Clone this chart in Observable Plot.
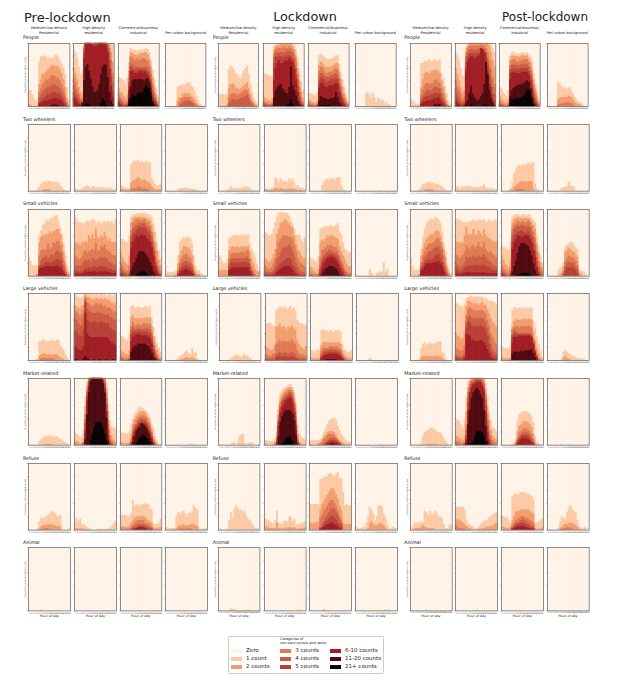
<!DOCTYPE html>
<html><head><meta charset="utf-8">
<style>
html,body{margin:0;padding:0;background:#fff}
#page{position:relative;width:631px;height:680px;overflow:hidden;font-family:"DejaVu Sans",sans-serif;color:#222}
#page svg{position:absolute;overflow:visible;background:none}
.t{position:absolute;white-space:nowrap;line-height:1}
</style>
<script src="https://cdn.jsdelivr.net/npm/d3@7"></script>
<script src="https://cdn.jsdelivr.net/npm/@observablehq/plot@0.6"></script>
</head><body><div id="page"></div>
<script>
const periods=["Pre-lockdown","Lockdown","Post-lockdown"];
const rowNames=["People","Two wheelers","Small vehicles","Large vehicles","Market-related","Refuse","Animal"];
const columnTitles=[["Medium/low-density","Residential"],["High-density","residential"],["Commercial/business/","industrial"],["Peri-urban background"]];
const categories=["Zero","1 count","2 counts","3 counts","4 counts","5 counts","6-10 counts","11-20 counts","21+ counts"];
const colors=["#fff2e6","#fbc8a2","#f29c6d","#dd7a55","#ca5c44","#b9403a","#a01e25","#4a0c10","#050505"];
const hours=d3.range(24);
// each curve: first value = hour it starts at, then the read top of that count band (%), cumulative from the axis
const h=(s,...v)=>hours.map(i=>v[i-s]??0);

const prePeople=[
[h(0,25,25,18,12,8,8,70,78,78,80,78,76,78,76,76,80,82,78,72,68,62,50,30,10),h(0,3,2,0,0,0,0,35,42,50,52,54,58,60,64,64,63,64,62,58,52,42,30,12,2),h(6,22,28,34,38,42,40,44,48,48,48,46,44,40,34,28,16,6),h(6,14,18,22,26,28,30,30,32,34,34,32,30,28,22,18,8,2),h(6,6,8,12,14,16,18,18,20,22,22,20,20,18,14,10,4),h(6,3,4,6,8,8,8,10,10,12,12,12,10,10,8,4),h(13,1,2,2,2,1)],
[h(0,90,85,75,62,50,55,98,100,100,100,100,100,100,100,100,100,100,100,100,100,100,100,100,98),h(0,60,52,42,30,22,18,95,100,100,100,100,100,100,100,100,100,100,100,100,100,100,98,85,70),h(0,45,38,28,20,12,12,92,100,100,100,100,100,100,100,100,100,100,100,100,100,100,92,72,52),h(0,32,25,18,12,8,8,88,100,100,100,100,100,100,100,100,100,100,100,100,100,98,85,58,38),h(0,22,16,10,7,4,5,82,100,100,100,100,98,98,100,100,100,100,100,100,100,92,72,45,25),h(0,14,10,5,3,2,3,75,98,100,100,98,96,94,94,96,100,100,100,100,96,85,60,32,15),h(5,5,40,62,66,55,42,30,22,22,25,35,50,62,66,64,45,22,8,2),h(7,2,4,2,0,0,0,0,0,0,4,12,8,2)],
[h(0,45,44,42,40,35,45,70,92,90,88,88,88,88,90,88,90,92,90,85,72,58,42,28,15),h(0,28,22,20,15,12,18,55,85,84,82,80,80,82,84,84,85,85,82,75,62,45,30,18,8),h(0,18,14,10,6,5,8,45,78,75,72,72,75,72,74,75,76,74,72,65,52,35,22,12,4),h(0,12,8,5,2,2,4,38,68,65,62,62,62,60,62,60,62,62,60,55,42,25,15,8,2),h(0,8,4,2,0,0,2,32,62,58,58,55,58,58,58,58,58,56,54,48,35,18,10,5),h(0,5,2,0,0,0,1,25,55,55,52,52,52,55,55,52,55,52,50,42,30,14,7,2),h(6,10,30,40,42,42,42,43,42,42,40,42,44,38,22,8,2),h(6,4,12,18,15,15,20,22,20,22,28,33,30,28,15,4)],
[h(7,30,32,32,34,32,36,36,38,32,30,25,16,10,4,2),h(7,8,14,14,18,20,20,20,20,16,14,10,5,2),h(8,6,10,12,14,14,14,14,10,8,4,2),h(9,3,5,7,8,8,8,6,4,1)]];
const lockPeople=[
[h(0,18,18,18,18,18,20,58,64,62,58,52,50,46,44,50,56,60,64,50,35,22,14,8,4),h(5,2,28,34,36,34,30,28,26,28,30,32,34,38,28,18,10,6,2),h(6,14,18,20,20,20,16,18,20,22,24,26,24,18,10,5,2),h(6,4,8,10,10,10,8,10,12,14,14,16,18,12,6,2)],
[h(0,52,52,50,48,46,48,95,98,98,98,100,100,100,100,100,100,100,100,98,90,75,55,38,25),h(0,15,12,10,8,8,12,88,95,96,96,98,98,98,98,98,98,98,95,90,78,60,40,22,12),h(0,8,6,4,3,3,6,82,90,92,92,92,92,94,92,92,94,92,90,82,70,50,30,14,6),h(0,4,3,2,1,1,3,75,85,85,85,85,85,85,85,88,88,85,85,75,60,42,22,8,3),h(0,2,1,0,0,0,1,68,78,78,78,78,78,78,80,80,80,78,75,65,50,32,14,4,1),h(6,40,60,68,72,68,68,70,72,72,76,72,70,58,42,22,8,2),h(6,14,25,30,32,35,28,24,20,20,30,62,32,25,16,8,2),h(14,2,4,10,2)],
[h(0,20,20,18,18,16,22,80,82,80,78,76,74,74,74,76,78,80,80,66,52,42,30,18,8),h(0,10,8,6,5,4,8,65,70,68,64,62,62,62,62,64,66,68,68,54,42,30,20,12,4),h(0,6,4,2,2,1,4,55,62,60,56,52,52,54,54,55,58,60,58,44,32,20,12,6,2),h(0,3,2,1,0,0,2,42,52,52,48,46,46,46,48,48,50,52,50,36,24,14,8,3),h(0,1,0,0,0,0,1,34,45,44,42,38,38,40,42,42,44,44,42,30,18,10,4),h(6,28,36,36,32,30,30,32,32,32,34,36,36,22,12,6,2),h(6,8,16,14,12,12,10,10,12,12,14,22,14,6,2),h(7,1,1,1,1,1,1)],
[h(6,20,22,18,12,20,14,6,12,12,8,10,4,6,2,2)]];
const postPeople=[
[h(0,12,8,5,3,2,2,68,68,72,70,72,74,70,72,74,72,72,74,52,44,32,20,8,2),h(5,1,30,42,52,54,52,52,55,56,56,58,55,52,40,30,18,8,2),h(6,18,26,32,36,36,34,36,36,40,42,38,36,28,20,10,3),h(6,10,16,20,24,26,24,25,28,30,30,28,28,20,12,5,1),h(6,6,10,14,16,17,16,18,18,20,20,20,18,12,7,2),h(6,3,5,7,8,9,8,10,10,12,12,14,10,6,3),h(14,2,2,2,2)],
[h(0,85,80,72,60,48,48,92,98,100,100,100,100,100,100,100,100,100,100,100,100,100,98,92,85),h(0,60,50,40,30,22,25,85,95,100,100,100,100,100,100,100,100,100,100,100,100,95,85,72,62),h(0,42,32,25,18,10,15,78,92,95,96,96,96,95,96,96,98,96,96,92,85,72,58,45,35),h(0,28,20,14,8,5,8,70,85,88,90,90,88,88,90,92,92,92,90,85,75,60,42,30,20),h(0,15,10,6,3,2,4,62,78,82,84,84,82,82,84,85,88,88,85,78,65,48,30,18,10),h(0,8,4,2,0,0,2,55,70,76,78,78,75,75,78,80,92,90,85,70,55,35,18,8,3),h(6,4,8,20,32,20,14,10,8,10,15,20,35,70,50,25,12,4),h(9,2,1,0,0,0,0,0,0,2,1)],
[h(0,30,28,22,18,15,25,78,84,86,82,84,82,84,84,85,84,85,82,78,72,52,36,22,10),h(0,15,12,8,6,5,10,72,78,80,78,78,78,78,80,80,78,80,76,70,58,42,28,15,5),h(0,8,5,3,2,1,4,65,72,74,72,70,70,72,72,74,74,74,70,62,50,32,20,8,2),h(0,4,2,1,0,0,2,58,65,66,64,64,64,64,66,66,66,66,62,55,40,24,12,4),h(0,2,1,0,0,0,1,52,58,60,58,58,58,60,60,60,60,60,56,48,34,18,8,2),h(6,42,52,54,52,52,52,52,54,54,54,54,50,40,28,12,4),h(6,15,25,28,30,32,34,33,35,36,38,40,38,28,14,4),h(6,4,10,11,12,12,12,12,14,16,20,26,26,22,10,2)],
[h(6,38,36,32,28,30,26,28,30,24,20,14,10,6,6,4,2),h(6,10,12,14,14,14,14,16,16,14,10,6,4,2,2),h(6,2,3,4,4,4,6,6,4,4,2)]];

const preTwo=[[h(5,2,6,10,12,14,13,15,14,13,14,12,13,12,8,5,2),h(8,1,2,2,2,1)],[h(0,2,3,1,2,3,5,6,8,6,5,7,6,4,6,5,3,5,3,4,3,5,3,2,2)],[h(0,8,7,5,4,3,4,40,42,45,44,46,43,44,43,42,44,43,42,18,14,10,6,8,10),h(0,2,2,1,1,1,1,12,14,16,18,20,18,15,16,16,14,12,10,6,4,2,1,2,2),h(6,2,3,4,4,6,5,3,3,3,2,2)],[h(7,2,3,4,4,5,4,4,3,3,2,2,1)]];
const lockTwo=[[h(5,1,3,6,4,3,3,4,3,4,5,5,6,6,3,1,1)],[h(0,2,3,2,2,4,6,20,16,12,18,15,14,15,13,18,14,18,12,4,8,5,3,3,3),h(0,1,2,1,1,1,2,4,3,2,4,3,2,2,2,3,2,3,2,1,1,1,1)],[h(7,8,14,16,18,16,18,18,16,18,20,20,8,2,1)],[h(14,1)]];
const postTwo=[[h(5,2,6,10,10,12,13,12,11,12,10,10,9,8,6,3,1),h(8,1,2,2,2,2,1)],[h(0,4,7,3,5,6,6,7,7,6,6,4,5,5,5,6,6,9,6,4,3,4,3,2,2)],[h(4,1,4,12,26,32,36,38,37,40,38,40,42,40,42,42,10,3,1),h(5,1,2,6,8,10,12,14,12,14,12,14,14,14,3),h(8,1,2,2,2,2,1)],[h(8,4,5,6,6,13,8,7,6)]];

const preSmall=[
[h(0,28,22,15,15,15,15,60,68,76,78,84,82,85,86,88,90,90,82,72,62,48,30,14,6),h(5,2,50,58,60,60,62,62,66,64,66,68,70,70,62,50,35,18,6,2),h(5,1,30,38,40,38,40,48,40,42,50,48,52,52,46,36,22,10,2),h(5,1,16,22,26,28,30,26,28,32,30,34,36,36,34,26,14,5,1),h(6,14,16,16,18,20,20,18,20,22,22,24,24,22,16,8,3),h(6,10,11,12,13,14,14,12,14,14,14,15,14,13,8,4,1)],
[h(0,90,85,80,80,78,78,80,82,80,82,84,84,80,80,82,78,80,82,80,82,80,82,78,84),h(0,48,50,48,45,50,50,52,50,60,55,62,56,70,58,55,60,58,65,58,52,55,50,50,50),h(0,30,28,25,25,28,35,38,34,36,38,40,38,48,36,38,44,42,46,40,36,36,32,30,30),h(0,16,14,15,14,15,20,24,22,24,20,26,24,22,24,26,28,26,28,26,22,20,18,16,16),h(0,8,8,6,5,6,8,12,10,12,10,12,14,12,12,14,14,12,14,12,10,10,10,8,8),h(0,4,3,2,2,3,4,6,5,6,5,6,6,6,5,6,6,6,6,6,5,5,4,4,4)],
[h(0,55,55,52,50,50,60,88,92,92,93,93,93,94,94,94,92,92,90,88,78,65,50,38,26),h(0,35,28,22,18,16,30,80,85,88,88,88,88,88,88,88,86,85,82,76,65,50,36,24,16),h(0,20,16,10,8,6,14,68,78,80,84,84,84,82,84,84,80,80,74,65,52,38,22,14,8),h(0,12,8,5,3,2,6,60,70,72,76,76,78,78,78,78,74,72,68,58,44,28,15,8,4),h(0,6,4,2,1,0,3,52,62,64,68,70,72,72,72,72,68,65,60,50,36,20,10,4,2),h(0,3,1,0,0,0,1,42,50,55,60,58,60,62,60,60,56,54,50,42,30,14,6,2),h(6,8,14,20,26,32,36,36,36,34,30,26,20,14,6,2),h(9,1,3,5,7,7,6,4,1)],
[h(0,3,6,5,5,5,6,8,30,50,54,58,56,58,58,55,48,30,14,8,8,4,2),h(5,1,2,18,30,38,44,44,42,42,38,30,15,6,2,2),h(7,8,18,26,30,32,32,28,26,18,8,2),h(7,5,12,18,20,22,22,20,18,12,4),h(7,3,8,12,14,15,15,14,12,8,2),h(7,1,4,7,8,9,9,8,6,4)]];
const lockSmall=[
[h(0,30,28,22,18,18,24,56,58,60,60,62,60,60,62,60,62,60,62,48,40,35,28,18,8),h(0,8,8,8,8,8,8,38,42,44,42,44,42,42,44,42,44,44,44,35,25,18,10,6,6),h(6,26,32,34,34,34,34,34,36,35,34,38,38,26,14,8,2),h(6,18,24,26,26,26,26,26,26,26,26,28,26,18,8,3),h(6,14,20,18,20,18,20,18,20,20,20,20,18,12,6),h(6,8,10,12,12,12,10,12,12,12,12,12,12,6,2)],
[h(0,65,64,60,60,62,70,80,88,94,95,95,95,94,94,90,84,78,70,62,60,62,55,50,58),h(0,26,24,22,20,24,32,40,62,70,78,80,82,84,80,78,74,72,60,48,40,36,30,26,26),h(0,16,12,10,10,12,18,26,40,50,55,58,60,60,60,58,58,54,46,36,26,20,18,16,14),h(0,8,6,5,5,5,8,14,24,28,34,40,42,42,44,46,42,36,28,18,12,8,6,5,4),h(0,3,2,2,1,2,4,6,10,14,18,20,22,24,26,26,24,16,12,6,4,2,1,1,1),h(0,1,0,0,0,0,1,2,5,8,10,12,12,14,14,14,12,8,4,2,1)],
[h(0,28,26,24,22,20,30,70,72,72,74,74,74,76,74,74,76,78,66,62,50,40,38,34,36),h(0,14,12,8,6,4,10,50,54,52,56,60,58,60,60,58,56,54,44,36,30,24,18,14,14),h(0,6,4,3,2,1,4,28,38,40,42,46,44,46,44,42,42,38,30,22,16,10,6,4,4),h(0,2,1,0,0,0,1,16,26,30,34,36,38,38,36,34,34,30,24,18,10,5,2,1,1),h(6,10,20,24,28,30,32,32,32,30,28,24,18,12,6,2),h(6,4,12,18,22,26,26,28,28,26,22,18,12,6,2),h(7,2,6,10,12,14,14,14,12,10,6,2)],
[h(8,10,4,0,0,4,5,6,6,20,6,10)]];
const postSmall=[
[h(0,28,14,8,8,8,12,40,58,70,78,82,84,86,84,88,86,84,80,66,48,36,18,8,4),h(5,2,30,42,48,54,58,60,62,62,66,68,66,60,50,40,28,12,4),h(5,1,20,30,36,42,46,48,48,50,52,56,56,50,42,30,16,6,1),h(6,14,20,26,30,34,36,36,40,42,42,44,38,30,20,10,2),h(6,10,14,18,22,24,24,24,26,30,30,32,26,20,12,5),h(6,8,10,14,18,18,18,18,20,20,20,22,18,14,6,2)],
[h(0,86,84,84,82,80,80,80,80,82,82,84,82,82,84,84,82,84,82,80,84,82,80,84,82),h(0,52,50,50,48,50,60,72,62,60,62,70,60,62,68,64,60,70,62,58,56,55,52,50,52),h(0,32,30,26,28,30,36,46,42,38,44,46,40,44,50,44,42,50,40,36,34,36,32,30,28),h(0,20,16,14,12,16,20,28,26,28,26,30,28,28,30,28,28,32,28,24,22,20,16,16,14),h(0,12,8,6,6,8,12,14,14,16,14,16,14,16,16,14,16,16,14,12,12,10,8,8,8),h(0,4,2,2,2,3,4,5,5,5,4,5,4,5,5,4,5,5,4,4,3,3,3,3,3)],
[h(0,45,42,42,40,38,50,88,90,92,92,90,90,92,92,90,92,90,86,84,80,60,44,30,20),h(0,30,24,18,14,10,24,80,84,86,88,86,86,86,86,86,86,85,80,76,70,48,34,20,12),h(0,16,10,8,5,3,12,70,76,78,82,80,80,82,80,80,82,80,74,66,56,36,22,12,6),h(0,8,5,3,1,0,6,62,70,72,76,74,76,76,74,74,74,72,66,58,46,28,14,6,2),h(0,4,2,1,0,0,3,52,60,62,66,66,68,66,64,64,66,62,58,48,36,20,8,2),h(0,2,0,0,0,0,1,40,50,54,60,60,58,58,60,60,60,55,50,38,28,12,4),h(6,6,14,22,34,44,48,48,48,46,44,38,30,18,8,2),h(9,1,2,3,4,4,4,4,2,1)],
[h(6,8,12,12,20,44,46,48,50,50,46,42,40,8,8,6,6,2),h(7,2,4,14,36,38,42,40,36,36,32,28,4,2),h(9,6,22,26,30,28,28,26,22,16,2),h(9,3,14,18,20,20,18,18,14,10),h(9,1,8,12,12,12,12,10,8,4)]];

const preLarge=[
[h(6,28,28,30,30,26,28,28,30,28,28,30,30,22,18,14,8,4),h(5,1,6,8,9,10,8,8,8,8,8,8,8,6,4,2,1),h(7,2,3,3,2,2,2,2,2)],
[h(0,98,96,94,92,94,96,100,100,98,98,98,96,98,98,96,98,96,98,96,96,98,96,96,98),h(0,82,80,78,76,80,82,98,94,94,92,90,90,92,92,90,92,90,92,90,90,88,86,84,86),h(0,74,72,68,64,68,74,94,86,84,82,80,82,84,84,82,84,80,82,78,78,78,76,72,72),h(0,62,60,54,50,52,62,90,76,74,72,70,70,70,72,70,70,68,68,66,68,64,64,60,60),h(0,44,42,38,36,36,44,86,60,58,56,56,58,56,56,56,58,56,56,54,54,48,46,44,42),h(0,20,18,16,14,14,20,70,40,36,34,34,34,34,34,34,34,34,34,34,32,28,26,24,22),h(0,2,1,0,0,0,2,6,2,1,0,0,1,0,0,1,0,0,0,1,0,0,0,1)],
[h(0,35,35,32,30,30,40,80,82,78,78,80,78,78,78,80,80,78,80,62,48,35,25,18,12),h(0,15,12,10,8,8,14,64,66,62,62,62,62,62,62,62,64,62,64,50,35,22,15,8,4),h(0,6,4,3,2,2,6,50,56,52,52,54,52,52,54,54,54,52,54,42,28,15,8,3,1),h(0,2,1,0,0,0,2,44,48,46,46,48,46,46,46,46,48,46,46,36,22,10,4,1),h(5,1,38,42,42,42,42,42,42,42,42,42,40,40,30,16,6,2),h(6,28,34,36,38,38,38,36,36,36,36,34,32,24,12,4,1),h(6,12,18,20,22,24,24,24,24,24,22,20,16,10,4,1)],
[h(6,1,3,5,7,9,12,14,10,8,18,10,12,2),h(9,1,2,3,4,3,2,4,2,1)]];
const lockLarge=[
[h(6,2,4,6,7,8,6,5,5,8,7,6,4,2)],
[h(0,54,55,56,54,52,50,74,76,80,78,78,80,76,78,80,76,78,74,60,56,54,55,52,52),h(0,20,18,16,14,16,22,50,48,54,48,50,48,46,50,48,52,48,46,30,24,20,18,16,20),h(0,8,8,6,6,8,10,24,26,30,26,28,28,26,28,26,30,26,24,14,10,8,8,8,6),h(0,3,2,2,2,2,3,8,10,12,10,10,12,10,10,10,12,10,8,4,3,3,2,2,2),h(6,4,5,6,5,4,5,4,4,5,5,4,3,1)],
[h(0,14,14,12,14,14,16,44,45,44,44,42,44,44,42,44,44,44,42,24,16,14,12,12,14),h(0,4,3,2,2,2,3,22,26,26,26,26,26,26,26,26,26,26,24,14,8,5,4,3,3),h(6,14,18,18,18,18,20,20,20,20,20,18,16,8,4,2),h(6,8,12,14,14,16,16,16,16,16,14,14,12,5,2),h(6,5,9,10,11,12,12,12,12,12,11,10,8,3),h(6,2,5,7,8,9,9,9,9,9,8,7,5,2),h(9,1,1,1,1,1,1)],
[h(7,2,2)]];
const postLarge=[
[h(5,1,18,24,26,22,24,26,24,24,25,26,28,28,12,10,2),h(6,4,6,5,6,5,6,5,5,6,6,5,5,2,1)],
[h(0,84,84,82,80,78,84,92,94,96,95,94,94,95,94,94,94,92,92,90,88,88,88,86,84),h(0,40,36,34,30,32,42,80,88,88,86,84,84,84,82,84,86,82,82,76,70,62,58,54,50),h(0,18,16,14,12,14,22,66,76,78,76,74,74,72,74,74,74,72,70,60,52,40,34,28,24),h(0,8,6,5,4,6,10,56,64,66,62,62,62,60,62,62,62,60,56,48,38,24,16,12,10),h(0,4,2,2,1,2,5,48,58,56,52,50,50,50,50,52,50,48,44,36,24,12,8,5,4),h(0,1,0,0,0,0,2,38,38,36,30,30,28,28,28,30,28,26,22,16,10,4,1,1)],
[h(0,20,18,18,16,18,22,74,78,78,76,78,78,76,78,78,76,78,78,58,48,35,24,14,4),h(0,4,3,2,2,2,4,50,58,60,60,60,60,60,62,60,62,60,60,42,30,18,10,4,1),h(0,1,0,0,0,0,1,46,48,50,50,48,50,50,50,50,50,50,48,32,18,8,3),h(6,38,44,42,40,40,40,40,40,40,40,40,38,28,15,6,1),h(6,36,40,38,38,38,38,38,38,38,38,38,36,26,13,5),h(6,26,34,34,34,36,36,36,36,36,36,36,34,24,12,4),h(6,10,12,12,12,12,14,12,14,14,14,15,16,10,4)],
[h(8,1,12,14,12,10,8,6,5,4,3,2,1,2,1),h(9,4,5,3,2,1)]];

const preMarket=[
[h(6,5,8,10,12,13,14,12,14,11,12,12,10,8,6,4,3,1),h(9,1,1,1,1,1)],
[h(0,18,16,14,10,12,24,72,94,100,100,100,100,100,100,100,100,100,100,92,62,36,28,26,24),h(0,6,5,4,2,3,8,58,88,100,100,100,100,100,100,100,100,100,100,86,50,24,14,8,5),h(0,2,1,0,0,1,4,46,82,98,100,100,100,100,100,100,100,100,98,78,38,14,6,2,1),h(5,2,38,78,95,100,100,100,100,100,100,100,98,95,70,30,8,3),h(5,1,32,72,92,100,100,100,100,100,100,100,98,90,60,22,4,1),h(6,20,66,88,98,100,100,100,100,100,100,96,84,50,14,2),h(6,8,45,78,95,98,100,98,98,98,98,92,78,40,6),h(9,6,16,26,32,34,35,32,26,16,6)],
[h(0,18,18,17,17,15,20,30,38,46,50,54,56,56,54,52,50,46,40,30,24,12,6,2,1),h(0,4,3,2,2,2,4,15,30,38,42,46,48,50,50,48,44,40,34,24,12,5,2),h(5,1,8,22,30,36,40,42,44,44,42,40,34,28,18,8,2),h(6,4,18,26,30,36,38,40,38,38,34,30,22,14,5,1),h(6,2,14,22,28,32,34,36,35,34,32,26,20,12,4),h(6,1,10,18,24,28,30,32,32,30,28,22,16,8,2),h(7,4,12,20,24,26,32,30,28,24,18,10,4),h(9,2,5,10,13,14,13,10,5,1)],
[h(14,1,1,1)]];
const lockMarket=[
[h(7,1,3,3,0,4,12,15,16,3,0,2,3,4,1)],
[h(0,6,6,5,5,5,6,10,28,62,78,82,84,86,88,90,90,86,78,62,30,16,12,10,8),h(0,1,1,0,0,0,1,4,18,52,70,75,78,82,84,86,86,82,70,50,16,4,2,1,1),h(6,2,12,44,64,70,74,78,80,82,82,78,64,42,10,2),h(6,1,8,38,58,66,70,74,76,78,78,74,60,34,6,1),h(7,5,34,54,62,66,70,72,74,74,68,54,28,4),h(7,3,28,48,56,60,66,68,70,70,62,48,22,2),h(8,12,34,42,48,52,52,52,50,46,36,14),h(10,2,4,8,12,12,8,6)],
[h(0,6,6,6,6,6,7,8,10,18,24,30,36,38,40,40,36,28,22,16,12,8,6,5,4),h(0,1,1,0,0,1,2,4,8,12,14,18,20,20,20,18,14,10,6,4,2,1,1,1),h(6,2,4,8,10,14,16,16,16,14,10,6,3,1),h(8,1,3,6,8,10,10,10,8,6,3,1),h(9,2,4,6,7,7,7,5,4,2),h(10,2,3,4,5,4,3,2,1),h(12,1,2,1)],
[h(14,1)]];
const postMarket=[
[h(5,1,3,14,18,20,22,24,26,24,22,20,18,18,14,10,6,2),h(9,1,1,1,1,1,1)],
[h(0,36,38,36,30,24,38,72,96,100,100,100,100,100,100,100,100,100,92,72,50,36,26,24,20),h(0,14,12,10,8,6,12,50,86,95,100,100,100,100,100,100,100,100,84,58,36,22,14,10,8),h(0,6,5,4,2,1,4,30,78,90,96,98,100,100,100,100,98,94,76,46,22,12,6,3,2),h(0,2,1,0,0,0,2,22,70,85,94,95,98,98,98,98,94,90,68,36,14,6,2,1),h(5,1,14,64,80,90,92,95,96,96,96,92,86,60,28,8,2),h(6,8,50,78,85,90,92,94,94,94,88,80,50,18,4),h(6,2,30,52,70,78,82,85,82,76,70,52,28,6),h(9,2,5,12,18,20,20,18,12,4)],
[h(6,1,3,8,38,46,48,50,50,50,48,46,42,34,12,4,2,1),h(7,1,4,20,28,30,34,35,35,34,30,26,16,4,1),h(8,2,10,18,20,22,24,24,22,20,16,8,1),h(9,6,12,15,17,18,18,16,14,10,4),h(9,4,9,12,14,14,14,12,10,6,2),h(9,2,6,8,10,10,10,8,6,3,1)],
[h(8,1,0,0,0,0,1)]];

const preRefuse=[
[h(5,1,12,18,16,18,20,22,24,28,26,24,20,20,22,0,0,0,0,2),h(6,2,4,6,6,7,8,7,8,7,6,5,5,4),h(8,1,1,2,1)],
[h(0,10,18,12,16,8,8,6,4,2,1,0,0,0,1,1,1,0,1,1,2,2,6,8,12),h(0,1,2,1,2,1,1,1)],
[h(0,20,22,22,22,20,20,24,44,36,38,36,36,38,38,40,38,38,30,30,8,8,8,10,16),h(0,4,5,4,4,4,6,10,14,18,18,20,20,20,20,18,16,14,12,10,3,2,2,3,4),h(0,1,1,1,1,1,2,4,6,10,12,14,14,14,14,10,10,8,6,4),h(6,2,3,5,6,8,8,8,8,6,6,4,3,2),h(7,1,2,3,4,5,5,5,4,3,2,1,1),h(8,1,2,3,3,4,3,2,1)],
[h(0,3,3,2,2,2,2,20,26,24,26,28,24,20,24,26,28,36,32,30,2,1,1,2,2),h(6,2,4,6,6,8,6,6,6,8,8,8,6,5),h(8,1,2,1,1,1,2,2)]];
const lockRefuse=[
[h(0,1,1,0,0,0,1,14,26,18,30,36,32,28,30,24,28,20,16,14,10,6,2,2,1)],
[h(0,16,16,14,12,10,8,14,28,10,10,8,12,14,12,18,20,12,16,6,8,8,10,10,12),h(0,3,4,3,2,2,2,2,10,2,2,1,2,3,2,3,4,2,3,1,1,2,2,2,3)],
[h(0,38,38,38,38,38,38,76,76,78,80,80,84,84,82,80,84,86,78,76,56,36,38,36,36),h(0,10,10,10,10,10,12,30,38,42,48,52,56,60,62,58,52,46,36,30,10,8,8,8,8),h(6,18,22,28,32,36,40,44,44,40,34,28,20,14),h(6,4,8,12,18,22,26,30,32,30,26,22,16,10),h(6,2,4,8,12,14,16,20,20,18,14,10,8,5),h(6,1,2,4,6,8,8,10,10,8,6,4,2,1)],
[h(0,4,3,2,2,3,4,10,20,34,30,24,14,20,36,36,34,24,18,8,2,1,4,2,2),h(7,2,10,12,8,6,6,8,10,8,6,3)]];
const postRefuse=[
[h(0,2,4,10,10,10,10,12,10,28,26,22,28,24,22,28,24,20,20,16,8,2,2,6,8),h(2,1,2,2,2,4,6,4,3,2,2,2,2)],
[h(0,34,34,34,34,34,30,16,8,8,6,4,2,2,4,8,10,12,14,14,18,20,22,24,26),h(0,14,16,14,12,10,8,5,3,2,1,0,0,0,1,1,2,2,3,4,4,5,6,8,10),h(0,6,4,2,2,1,1)],
[h(0,20,20,18,18,12,10,50,52,54,52,54,56,56,56,54,54,52,50,46,10,10,12,14,16),h(0,4,4,3,2,2,4,14,20,26,28,28,30,30,30,30,30,28,26,24,2,1,1,2,3),h(6,6,10,14,16,18,20,20,18,18,16,14,12,10),h(6,3,6,9,10,12,14,16,14,12,10,8,6,5),h(6,2,4,6,7,9,10,10,9,8,6,4,3,2),h(6,1,2,3,4,5,5,5,4,3,2,1,1,1)],
[h(6,2,12,18,18,16,26,32,36,30,28,26,14,4,2,2,4,2),h(7,2,4,6,8,8,10,10,10,8,6,4,1),h(8,1,2,2,3,3,2,1)]];

const preAnimal=[[h(7,1)],[],[],[]];
const lockAnimal=[[h(7,3,2,2,0,0,0,0,0,0,0,1)],[h(20,1)],[h(8,1,1)],[h(17,2,0,1)]];
const postAnimal=[[h(9,1)],[h(12,1)],[],[]];

const table=[
[prePeople,preTwo,preSmall,preLarge,preMarket,preRefuse,preAnimal],
[lockPeople,lockTwo,lockSmall,lockLarge,lockMarket,lockRefuse,lockAnimal],
[postPeople,postTwo,postSmall,postLarge,postMarket,postRefuse,postAnimal]];

// layout
const xTop=[[28.3,69.7],[73.3,114],[118,158.7],[165.3,205.7],[218.3,258.3],[263.3,304],[307.7,348.3],[355,395.7],[410,451],[455,495.3],[499.3,540],[546.7,587.3]];
const xRest=[[28.3,70.3],[74.3,116.3],[120,161.3],[165.3,207.3],[218.3,259.7],[263.7,305.3],[309.3,351.3],[355,397],[410,451.7],[455.3,497.3],[501.3,543.3],[547,588.7]];
const yRows=[[43,106],[124.3,191],[209,275.7],[293.3,360.3],[378.3,445],[462.7,529.3],[547.3,610.7]];
const rowLabelY=[38,120,204.7,289.7,374,459,543.3];
const rowLabelX=[23,212.7,404.3];

const page=document.getElementById("page");
function txt(s,x,y,size,anchor){
  const d=document.createElement("div");d.className="t";d.textContent=s;
  d.style.left=x+"px";d.style.top=(y-size/2)+"px";d.style.fontSize=size+"px";
  if(anchor==="middle")d.style.transform="translateX(-50%)";
  page.appendChild(d);return d;
}
txt("Pre-lockdown",24,17,13);
txt("Lockdown",305,17,12.8,"middle");
txt("Post-lockdown",502,17,12);

const ML=6,MR=1,MT=1,MB=4;
table.forEach((rows,p)=>rows.forEach((panels,r)=>panels.forEach((curves,c)=>{
  const [x0,x1]=(r===0?xTop:xRest)[p*4+c];
  const shift=(p===1&&r===3)?1:0;
  const [y0,y1]=yRows[r];
  const rowsData=[];
  hours.forEach(hr=>rowsData.push({hour:hr,cat:"Zero",top:100}));
  curves.forEach((cv,i)=>cv.forEach((v,hr)=>{if(v>0)rowsData.push({hour:hr,cat:categories[i+1],top:v});}));
  const svg=Plot.plot({
    width:x1-x0+ML+MR,height:y1-y0+MT+MB,
    marginLeft:ML,marginRight:MR,marginTop:MT,marginBottom:MB,
    style:{fontFamily:"DejaVu Sans",background:"none",overflow:"visible",color:"#555"},
    x:{type:"band",domain:hours,padding:0,round:false},
    y:{domain:[0,100]},
    color:{type:"ordinal",domain:categories,range:colors},
    marks:[
      Plot.barY(rowsData,{x:"hour",y1:()=>0,y2:"top",fill:"cat",stroke:"cat",strokeWidth:0.25}),
      Plot.frame({stroke:"#77716d",strokeWidth:0.8}),
      Plot.axisX({tickSize:0.8,tickPadding:0.4,fontSize:2,stroke:"#777",strokeWidth:0.25,label:null}),
      Plot.axisY({ticks:[0,20,40,60,80,100],tickSize:1,tickFormat:()=>"",stroke:"#666",strokeWidth:0.4,fontSize:2.2,
        label:c===0?"Proportion of all recorded counts":null,labelAnchor:"center",labelArrow:"none",labelOffset:4})
    ]
  });
  svg.style.left=(x0+shift-ML)+"px";svg.style.top=(y0-MT)+"px";
  page.appendChild(svg);
  if(r===0){
    const t=columnTitles[c],cx=(x0+x1)/2;
    if(t.length===2){txt(t[0],cx,29,3.6,"middle");txt(t[1],cx,33.3,3.6,"middle");}
    else txt(t[0],cx,33.3,3.6,"middle");
  }
  if(r===6)txt("Hour of day",(x0+x1)/2,616.7,3.3,"middle");
})));
periods.forEach((_,p)=>rowNames.forEach((n,r)=>txt(n,rowLabelX[p],rowLabelY[r],4.8)));

// legend
const box=document.createElement("div");
box.style.cssText="position:absolute;left:228.3px;top:635.7px;width:154px;height:36px;border:0.7px solid #ccc;border-radius:1.5px;background:#fff";
page.appendChild(box);
txt("Categories of",280,639.5,3.5);
txt("non-zero counts and zeros",280,644,3.5);
const legendX=[231,280.3,330],legendY=[651,659,667];
categories.forEach((cat,i)=>{
  const col=Math.floor(i/3),row=i%3;
  const s=document.createElement("div");
  s.style.cssText=`position:absolute;left:${legendX[col]}px;top:${legendY[row]-1.8}px;width:10.7px;height:3.8px;background:${colors[i]}`;
  page.appendChild(s);
  txt(cat,legendX[col]+15,legendY[row],5.5);
});
</script></body></html>
